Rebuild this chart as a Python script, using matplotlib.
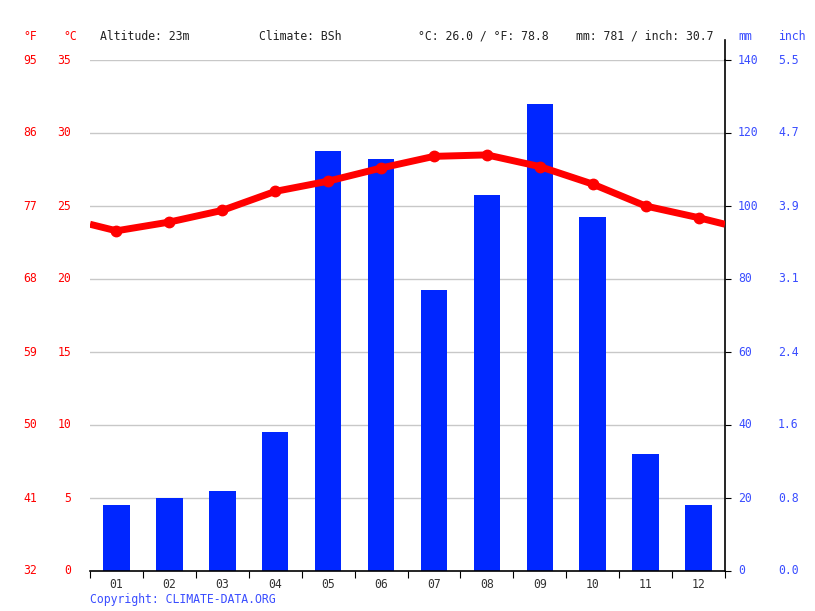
import numpy as np
import matplotlib as mpl
import matplotlib.pyplot as plt
from matplotlib.transforms import blended_transform_factory

mpl.rcParams['font.family'] = 'DejaVu Sans Mono'
mpl.rcParams['font.size'] = 8.3

months = ['01', '02', '03', '04', '05', '06', '07', '08', '09', '10', '11', '12']
precip_mm = [18, 20, 22, 38, 115, 113, 77, 103, 128, 97, 32, 18]
temp_c = [23.3, 23.9, 24.7, 26.0, 26.7, 27.6, 28.4, 28.5, 27.7, 26.5, 25.0, 24.2]

c_ticks = [0, 5, 10, 15, 20, 25, 30, 35]
f_labels = ['32', '41', '50', '59', '68', '77', '86', '95']
mm_ticks = [0, 20, 40, 60, 80, 100, 120, 140]
inch_labels = ['0.0', '0.8', '1.6', '2.4', '3.1', '3.9', '4.7', '5.5']

header = [('Altitude: 23m', 100), ('Climate: BSh', 259),
          ('°C: 26.0 / °F: 78.8', 418), ('mm: 781 / inch: 30.7', 576)]

red = '#ff0000'
blue = '#0026ff'
txt_blue = '#3a4dff'

W, H = 815, 611
x0, x1, ytop, ybot = 90, 725, 60, 571

fig = plt.figure(figsize=(W / 100, H / 100), dpi=100)
ax = fig.add_axes([x0 / W, (H - ybot) / H, (x1 - x0) / W, (ybot - ytop) / H])
ax2 = ax.twinx()

centers = np.arange(12) + 0.5
ax.bar(centers, precip_mm, width=0.5, color=blue, zorder=2)
ax.set_xlim(0, 12)
ax.set_ylim(0, 140)

# grid lines
for v in mm_ticks[1:]:
    ax.axhline(v, color='#c8c8c8', lw=1, zorder=1)

for s in ['top', 'left']:
    ax.spines[s].set_visible(False)
ax.spines['bottom'].set_linewidth(1.2)
ax.spines['right'].set_linewidth(1.2)
# right axis line runs a bit above the plot area
ax.plot([1, 1], [1, (ybot - 40) / (ybot - ytop)], transform=ax.transAxes,
        color='black', lw=1.2, clip_on=False)

ax.set_xticks(np.arange(13))
ax.set_xticklabels([])
ax.set_xticks(centers, minor=True)
ax.set_xticklabels(months, minor=True, color='#333333')
ax.tick_params(axis='x', which='major', length=5, direction='out')
ax.tick_params(axis='x', which='minor', length=0, pad=5)
ax.yaxis.tick_right()
ax.set_yticks(mm_ticks)
ax.set_yticklabels([])
ax.tick_params(axis='y', length=4, direction='out', left=False, right=True)

# temperature on twin axis
ax2.set_ylim(0, 35)
ax2.axis('off')
edge = (temp_c[0] + temp_c[-1]) / 2
tx = np.concatenate([[0], centers, [12]])
ty = np.concatenate([[edge], temp_c, [edge]])
ax2.plot(tx, ty, color=red, lw=5, solid_capstyle='butt', zorder=3)
ax2.plot(centers, temp_c, 'o', color=red, ms=7.5, zorder=4)

# axis labels as text
tl = blended_transform_factory(ax.transAxes, ax2.transData)
tr = blended_transform_factory(ax.transAxes, ax.transData)
fx = lambda px: (px - x0) / (x1 - x0)
for c, f in zip(c_ticks, f_labels):
    ax.text(fx(37), c, f, transform=tl, ha='right', va='center', color=red)
    ax.text(fx(71), c, str(c), transform=tl, ha='right', va='center', color=red)
for m, i in zip(mm_ticks, inch_labels):
    ax.text(fx(738), m, str(m), transform=tr, ha='left', va='center', color=txt_blue)
    ax.text(fx(778), m, i, transform=tr, ha='left', va='center', color=txt_blue)

hy = (H - 36) / H
fig.text(37 / W, hy, '°F', ha='right', va='center', color=red)
fig.text(77 / W, hy, '°C', ha='right', va='center', color=red)
fig.text(738 / W, hy, 'mm', ha='left', va='center', color=txt_blue)
fig.text(778 / W, hy, 'inch', ha='left', va='center', color=txt_blue)
for t, px in header:
    fig.text(px / W, hy, t, ha='left', va='center', color='#222222')

fig.text(90 / W, (H - 599) / H, 'Copyright: CLIMATE-DATA.ORG', ha='left', va='center', color=txt_blue)

plt.savefig('out.png', dpi=100)
